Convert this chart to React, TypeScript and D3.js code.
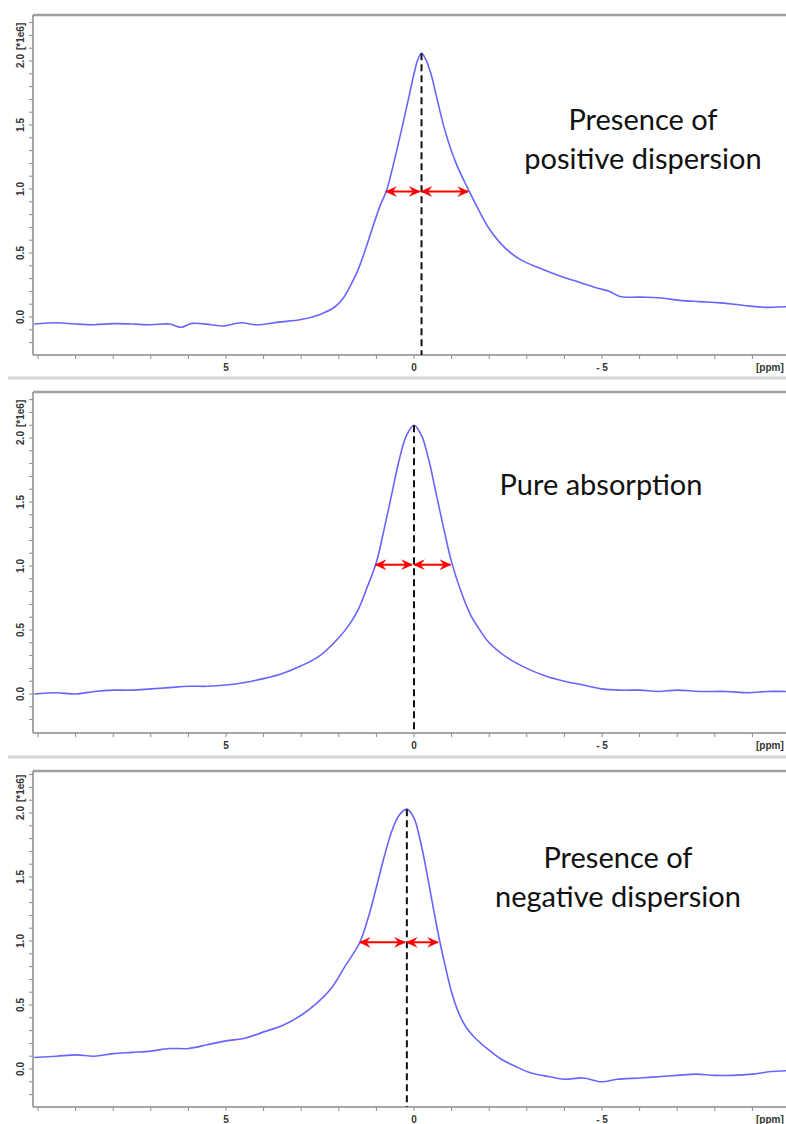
import * as d3 from "d3";
import React, { useRef, useEffect } from "react";

// spectrum 1: positive dispersion
const ppm1 = [10.1, 9.5, 9.0, 8.5, 8.0, 7.5, 7.0, 6.5, 6.2, 5.9, 5.4, 5.1, 4.6, 4.2, 3.6, 3.0, 2.5, 2.1, 1.9, 1.7, 1.5, 1.3, 1.1, 0.9, 0.74, 0.55, 0.35, 0.15, 0.0, -0.1, -0.2, -0.3, -0.45, -0.6, -0.82, -1.12, -1.49, -1.75, -2.0, -2.42, -2.82, -3.35, -3.88, -4.41, -4.95, -5.2, -5.48, -6.0, -6.5, -7.07, -7.6, -8.14, -8.5, -8.94, -9.4, -9.9, -10.3];
const val1 = [-0.055, -0.045, -0.055, -0.06, -0.052, -0.055, -0.06, -0.055, -0.08, -0.05, -0.06, -0.07, -0.045, -0.06, -0.04, -0.02, 0.02, 0.08, 0.14, 0.24, 0.36, 0.52, 0.7, 0.87, 0.98, 1.19, 1.44, 1.7, 1.9, 2.01, 2.06, 2.02, 1.9, 1.72, 1.46, 1.2, 0.97, 0.82, 0.69, 0.54, 0.45, 0.38, 0.32, 0.27, 0.22, 0.2, 0.16, 0.155, 0.15, 0.13, 0.12, 0.11, 0.1, 0.085, 0.075, 0.08, 0.08];

// spectrum 2: pure absorption
const ppm2 = [10.1, 9.5, 9.0, 8.5, 8.0, 7.5, 7.0, 6.5, 6.0, 5.5, 5.0, 4.5, 4.0, 3.5, 3.0, 2.5, 2.0, 1.75, 1.5, 1.25, 1.0, 0.8, 0.6, 0.4, 0.2, 0.0, -0.2, -0.4, -0.6, -0.8, -1.0, -1.25, -1.5, -1.75, -2.0, -2.5, -3.0, -3.5, -4.0, -4.5, -5.0, -5.5, -6.0, -6.5, -7.0, -7.6, -8.3, -8.9, -9.4, -9.9, -10.3];
const val2 = [0.0, 0.01, 0.0, 0.02, 0.03, 0.03, 0.04, 0.05, 0.06, 0.06, 0.07, 0.09, 0.12, 0.16, 0.22, 0.3, 0.44, 0.53, 0.65, 0.83, 1.03, 1.28, 1.55, 1.82, 2.02, 2.1, 2.02, 1.82, 1.55, 1.28, 1.03, 0.8, 0.62, 0.5, 0.4, 0.28, 0.2, 0.14, 0.1, 0.07, 0.04, 0.03, 0.03, 0.02, 0.03, 0.02, 0.02, 0.01, 0.02, 0.02, 0.02];

// spectrum 3: negative dispersion
const ppm3 = [10.1, 9.5, 9.0, 8.5, 8.0, 7.5, 7.0, 6.5, 6.0, 5.5, 5.0, 4.5, 4.0, 3.5, 3.0, 2.6, 2.2, 1.84, 1.44, 1.2, 1.0, 0.8, 0.6, 0.4, 0.19, 0.0, -0.2, -0.4, -0.55, -0.69, -0.85, -1.0, -1.2, -1.4, -1.6, -1.9, -2.3, -2.7, -3.1, -3.6, -4.0, -4.5, -5.0, -5.4, -6.0, -6.5, -7.0, -7.5, -8.0, -8.5, -9.0, -9.5, -10.3];
const val3 = [0.09, 0.1, 0.11, 0.1, 0.12, 0.13, 0.14, 0.16, 0.16, 0.19, 0.22, 0.24, 0.29, 0.34, 0.42, 0.51, 0.63, 0.8, 0.99, 1.2, 1.42, 1.65, 1.85, 1.98, 2.03, 1.96, 1.74, 1.44, 1.2, 0.99, 0.78, 0.6, 0.43, 0.32, 0.25, 0.17, 0.08, 0.02, -0.03, -0.06, -0.08, -0.07, -0.1, -0.08, -0.07, -0.06, -0.05, -0.04, -0.05, -0.05, -0.04, -0.02, -0.01];

// half-height arrows: [left edge, peak, right edge] in ppm, and the height
const arrowPpm = [
  [0.74, -0.2, -1.49],
  [1.02, 0.0, -1.02],
  [1.44, 0.19, -0.69],
];
const arrowHeight = [0.98, 1.01, 0.99];
const peakValue = [2.06, 2.1, 2.03];

const titles = [
  ["Presence of", "positive dispersion"],
  ["Pure absorption"],
  ["Presence of", "negative dispersion"],
];

const yTicks = d3.range(-0.2, 2.31, 0.1);
const yLabels = [0, 0.5, 1.0, 1.5, 2.0];
const xTicks = d3.range(-10, 11, 1);
const xLabels = [5, 0, -5];

const W = 786, H = 1124;
const panels = [
  { top: 15, zero: 317, bottom: 355, titleX: 643, titleY: [130, 169] },
  { top: 392, zero: 694, bottom: 733, titleX: 601, titleY: [495] },
  { top: 771, zero: 1069, bottom: 1107, titleX: 618, titleY: [868, 907] },
];
const separators = [378, 757];
const left = 33;
const tickFont = "Liberation Sans, Arial, sans-serif";

function App() {
  const ref = useRef(null);

  useEffect(() => {
    const svg = d3.select(ref.current);
    svg.selectAll("*").remove();

    svg.append("defs")
      .append("marker")
      .attr("id", "head")
      .attr("viewBox", "0 0 10 10")
      .attr("refX", 9)
      .attr("refY", 5)
      .attr("markerWidth", 12)
      .attr("markerHeight", 12)
      .attr("markerUnits", "userSpaceOnUse")
      .attr("orient", "auto-start-reverse")
      .append("path")
      .attr("d", "M0,0.5 L10,5 L0,9.5 L3.5,5 Z")
      .attr("fill", "#ff0000");

    const x = d3.scaleLinear().domain([10, -10]).range([38, 790]);

    separators.forEach((s) => {
      svg.append("line")
        .attr("x1", 8).attr("x2", W).attr("y1", s).attr("y2", s)
        .attr("stroke", "#d6d6d6").attr("stroke-width", 3);
    });

    const series = [
      { p: ppm1, v: val1 },
      { p: ppm2, v: val2 },
      { p: ppm3, v: val3 },
    ];

    panels.forEach((pn, i) => {
      const y = d3.scaleLinear().domain([0, 2]).range([pn.zero, pn.zero - 256]);
      const g = svg.append("g");

      // frame
      g.append("line")
        .attr("x1", left).attr("x2", W).attr("y1", pn.top).attr("y2", pn.top)
        .attr("stroke", "#a0a0a0").attr("stroke-width", 2.5);
      g.append("line")
        .attr("x1", left).attr("x2", left).attr("y1", pn.top).attr("y2", pn.bottom)
        .attr("stroke", "#8a8a8a").attr("stroke-width", 1.5);
      g.append("line")
        .attr("x1", left).attr("x2", W).attr("y1", pn.bottom).attr("y2", pn.bottom)
        .attr("stroke", "#8a8a8a").attr("stroke-width", 1.5);

      // y ticks
      g.selectAll(".yt")
        .data(yTicks)
        .enter()
        .append("line")
        .attr("x1", left - 4).attr("x2", left)
        .attr("y1", (d) => y(d)).attr("y2", (d) => y(d))
        .attr("stroke", "#8a8a8a").attr("stroke-width", 1);
      g.selectAll(".yl")
        .data(yLabels)
        .enter()
        .append("text")
        .attr("transform", (d) => `translate(24,${y(d)})rotate(-90)`)
        .attr("text-anchor", "middle")
        .attr("font-family", tickFont)
        .attr("font-weight", "bold")
        .attr("font-size", 10)
        .attr("fill", "#333")
        .text((d) => d.toFixed(1));
      g.append("text")
        .attr("transform", `translate(24,${y(2) - 11})rotate(-90)`)
        .attr("text-anchor", "start")
        .attr("font-family", tickFont)
        .attr("font-weight", "bold")
        .attr("font-size", 10)
        .attr("fill", "#333")
        .text("[*1e6]");

      // x ticks
      g.selectAll(".xt")
        .data(xTicks)
        .enter()
        .append("line")
        .attr("x1", (d) => x(d)).attr("x2", (d) => x(d))
        .attr("y1", pn.bottom).attr("y2", pn.bottom + 4)
        .attr("stroke", "#8a8a8a").attr("stroke-width", 1);
      g.selectAll(".xl")
        .data(xLabels)
        .enter()
        .append("text")
        .attr("x", (d) => x(d))
        .attr("y", pn.bottom + 16)
        .attr("text-anchor", "middle")
        .attr("font-family", tickFont)
        .attr("font-weight", "bold")
        .attr("font-size", 10)
        .attr("fill", "#333")
        .text((d) => (d < 0 ? "- " + Math.abs(d) : String(d)));
      g.append("text")
        .attr("x", 756).attr("y", pn.bottom + 16)
        .attr("font-family", tickFont)
        .attr("font-weight", "bold")
        .attr("font-size", 10)
        .attr("fill", "#333")
        .text("[ppm]");

      // spectrum
      const s = series[i];
      const pts = s.p.map((p, k) => [p, s.v[k]]);
      const line = d3.line()
        .x((d) => x(d[0]))
        .y((d) => y(d[1]))
        .curve(d3.curveCatmullRom.alpha(0.5));
      g.append("path")
        .attr("d", line(pts))
        .attr("fill", "none")
        .attr("stroke", "#6666ff")
        .attr("stroke-width", 1.6);

      // dashed line through the peak
      const [aL, aC, aR] = arrowPpm[i];
      g.append("line")
        .attr("x1", x(aC)).attr("x2", x(aC))
        .attr("y1", y(peakValue[i])).attr("y2", pn.bottom)
        .attr("stroke", "#111").attr("stroke-width", 2)
        .attr("stroke-dasharray", "7,4");

      // half-width arrows
      const ay = y(arrowHeight[i]);
      [[aL, aC], [aC, aR]].forEach(([a, b]) => {
        const x1 = x(a), x2 = x(b);
        const dir = x2 > x1 ? 1 : -1;
        g.append("line")
          .attr("x1", x1).attr("x2", x2 - dir * 2)
          .attr("y1", ay).attr("y2", ay)
          .attr("stroke", "#ff0000").attr("stroke-width", 2)
          .attr("marker-start", "url(#head)")
          .attr("marker-end", "url(#head)");
      });

      // title
      titles[i].forEach((t, k) => {
        g.append("text")
          .attr("x", pn.titleX)
          .attr("y", pn.titleY[k])
          .attr("text-anchor", "middle")
          .attr("font-family", "Lato, Open Sans, sans-serif")
          .attr("font-size", 29)
          .attr("fill", "#111")
          .text(t);
      });
    });
  }, []);

  return (
    <div style={{ position: "absolute", left: 0, top: 0 }}>
      <svg ref={ref} width={W} height={H} style={{ display: "block", background: "#fff" }}></svg>
    </div>
  );
}

export default App;
